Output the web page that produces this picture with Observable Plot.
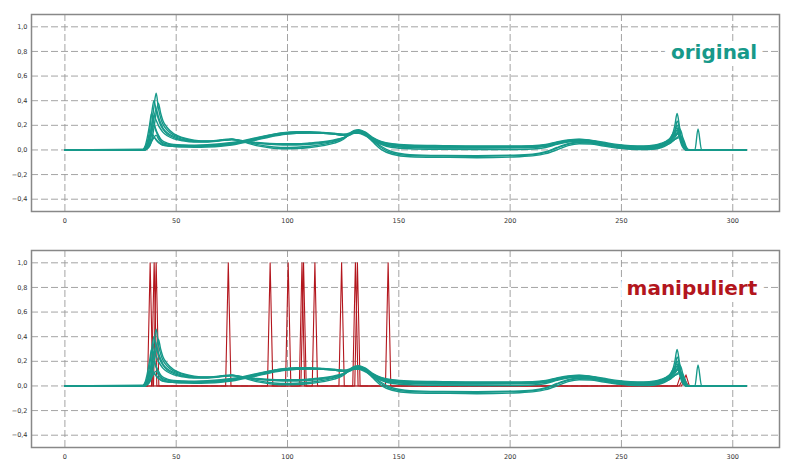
<!DOCTYPE html>
<html>
<head>
<meta charset="utf-8">
<script src="https://cdn.jsdelivr.net/npm/d3@7"></script>
<script src="https://cdn.jsdelivr.net/npm/@observablehq/plot@0.6"></script>
<style>
  html, body { margin: 0; padding: 0; background: #fff; }
  #chart svg { display: block; }
</style>
</head>
<body>
<div id="chart"></div>
<script>
// ---- data ----
const xGrid = [0, 35, 36, 37, 38, 39, 40, 41, 42, 43, 44, 46, 49, 53, 58, 64, 70, 75, 80, 86, 92, 98, 104, 110, 116, 121, 125, 128, 130, 132, 135, 138, 142, 147, 155, 170, 185, 200, 210, 216, 221, 226, 231, 236, 242, 248, 254, 260, 265, 268, 270, 272, 273, 274, 275, 276, 277, 278, 279, 280, 283, 284.4, 286, 306];

const seriesA = [0, 0, 0.01, 0.03, 0.08, 0.2, 0.35, 0.46, 0.34, 0.26, 0.21,
  0.16, 0.12, 0.095, 0.075, 0.07, 0.08, 0.088, 0.065, 0.035, 0.018,
  0.01, 0.012, 0.02, 0.035, 0.055, 0.085, 0.13, 0.15, 0.155, 0.13, 0.08,
  0.02, -0.025, -0.045, -0.05, -0.052, -0.048, -0.04, -0.02, 0.015, 0.045, 0.06, 0.055,
  0.04, 0.02, 0.01, 0.005, 0.012, 0.03, 0.05, 0.09, 0.13, 0.2,
  0.296, 0.2, 0.08, 0.02, 0, 0, 0, 0, 0, 0];
const seriesB = [0, 0, 0.02, 0.06, 0.15, 0.3, 0.4, 0.32, 0.25, 0.2, 0.17,
  0.13, 0.1, 0.08, 0.068, 0.068, 0.078, 0.085, 0.072, 0.055, 0.045,
  0.04, 0.04, 0.045, 0.055, 0.07, 0.095, 0.125, 0.145, 0.15, 0.13, 0.085,
  0.03, -0.015, -0.038, -0.045, -0.047, -0.043, -0.035, -0.015, 0.02, 0.05, 0.065, 0.06,
  0.045, 0.025, 0.015, 0.01, 0.018, 0.035, 0.055, 0.08, 0.1, 0.14,
  0.236, 0.18, 0.07, 0.02, 0, 0, 0, 0, 0, 0];
const seriesC = [0, 0, 0, 0.01, 0.03, 0.08, 0.18, 0.3, 0.38, 0.3, 0.24,
  0.18, 0.13, 0.1, 0.08, 0.072, 0.082, 0.09, 0.07, 0.045, 0.028,
  0.02, 0.022, 0.03, 0.045, 0.065, 0.095, 0.13, 0.148, 0.15, 0.12, 0.07,
  0.005, -0.035, -0.055, -0.06, -0.063, -0.058, -0.048, -0.03, 0.0, 0.035, 0.05, 0.048,
  0.032, 0.015, 0.006, 0.003, 0.008, 0.02, 0.035, 0.06, 0.08, 0.1,
  0.13, 0.17, 0.14, 0.06, 0.02, 0, 0, 0, 0, 0];
const seriesD = [0, 0, 0.005, 0.02, 0.05, 0.13, 0.26, 0.33, 0.27, 0.22, 0.18,
  0.14, 0.11, 0.085, 0.07, 0.068, 0.078, 0.086, 0.074, 0.058, 0.05,
  0.046, 0.046, 0.052, 0.062, 0.078, 0.098, 0.125, 0.14, 0.14, 0.12, 0.09,
  0.055, 0.035, 0.025, 0.02, 0.02, 0.022, 0.025, 0.035, 0.055, 0.07, 0.078, 0.07,
  0.05, 0.03, 0.02, 0.02, 0.03, 0.045, 0.06, 0.08, 0.1, 0.12,
  0.14, 0.12, 0.08, 0.03, 0.01, 0, 0, 0, 0, 0];
const seriesE = [0, 0, 0.01, 0.04, 0.1, 0.2, 0.28, 0.24, 0.2, 0.17, 0.145,
  0.115, 0.09, 0.075, 0.065, 0.064, 0.074, 0.082, 0.072, 0.06, 0.052,
  0.05, 0.05, 0.056, 0.066, 0.082, 0.1, 0.12, 0.135, 0.135, 0.115, 0.085,
  0.05, 0.03, 0.02, 0.015, 0.015, 0.017, 0.02, 0.03, 0.05, 0.068, 0.075, 0.068,
  0.05, 0.032, 0.022, 0.02, 0.028, 0.04, 0.05, 0.065, 0.075, 0.085,
  0.1, 0.115, 0.1, 0.05, 0.015, 0, 0, 0, 0, 0];
const seriesF = [0, 0, 0.01, 0.04, 0.09, 0.16, 0.2, 0.15, 0.11, 0.08, 0.06,
  0.048, 0.04, 0.036, 0.035, 0.038, 0.045, 0.055, 0.07, 0.095, 0.12,
  0.138, 0.145, 0.145, 0.14, 0.132, 0.125, 0.135, 0.155, 0.16, 0.14, 0.1,
  0.065, 0.045, 0.035, 0.03, 0.028, 0.028, 0.03, 0.04, 0.06, 0.078, 0.085, 0.078,
  0.058, 0.04, 0.03, 0.028, 0.035, 0.05, 0.07, 0.1, 0.13, 0.16,
  0.2, 0.15, 0.06, 0.02, 0, 0, 0, 0, 0, 0];
const seriesG = [0, 0, 0.02, 0.06, 0.11, 0.13, 0.11, 0.08, 0.06, 0.048, 0.04,
  0.035, 0.032, 0.03, 0.03, 0.033, 0.04, 0.05, 0.066, 0.09, 0.115,
  0.132, 0.14, 0.14, 0.136, 0.128, 0.12, 0.13, 0.15, 0.155, 0.135, 0.095,
  0.06, 0.04, 0.03, 0.025, 0.024, 0.025, 0.028, 0.038, 0.058, 0.075, 0.082, 0.075,
  0.055, 0.035, 0.025, 0.022, 0.03, 0.045, 0.062, 0.085, 0.11, 0.13,
  0.16, 0.13, 0.06, 0.02, 0, 0, 0, 0, 0, 0];
const seriesH = [0, 0, 0, 0.02, 0.05, 0.08, 0.1, 0.085, 0.065, 0.05, 0.04,
  0.032, 0.028, 0.026, 0.026, 0.03, 0.036, 0.046, 0.062, 0.085, 0.11,
  0.128, 0.136, 0.138, 0.135, 0.128, 0.118, 0.128, 0.148, 0.152, 0.132, 0.09,
  0.055, 0.035, 0.025, 0.02, 0.02, 0.02, 0.024, 0.033, 0.052, 0.07, 0.076, 0.07,
  0.05, 0.03, 0.02, 0.018, 0.024, 0.036, 0.05, 0.07, 0.09, 0.11,
  0.13, 0.12, 0.09, 0.05, 0.015, 0, 0, 0, 0, 0];
const seriesI = [0, 0, 0, 0.01, 0.03, 0.07, 0.1, 0.12, 0.09, 0.065, 0.05,
  0.038, 0.03, 0.025, 0.022, 0.024, 0.03, 0.04, 0.058, 0.08, 0.105,
  0.125, 0.135, 0.14, 0.138, 0.13, 0.122, 0.13, 0.15, 0.155, 0.13, 0.085,
  0.045, 0.02, 0.01, 0.005, 0.003, 0.004, 0.008, 0.02, 0.045, 0.065, 0.072, 0.066,
  0.045, 0.025, 0.012, 0.01, 0.016, 0.028, 0.04, 0.055, 0.07, 0.085,
  0.095, 0.1, 0.11, 0.08, 0.03, 0.005, 0, 0, 0, 0];
const seriesJ = [0, 0.005, 0.03, 0.1, 0.2, 0.3, 0.22, 0.16, 0.12, 0.09, 0.072,
  0.056, 0.045, 0.04, 0.038, 0.042, 0.05, 0.06, 0.075, 0.1, 0.122,
  0.14, 0.148, 0.148, 0.142, 0.135, 0.128, 0.138, 0.158, 0.165, 0.145, 0.105,
  0.07, 0.05, 0.04, 0.035, 0.032, 0.032, 0.035, 0.045, 0.065, 0.082, 0.088, 0.08,
  0.062, 0.045, 0.035, 0.032, 0.04, 0.055, 0.068, 0.09, 0.12, 0.145,
  0.18, 0.1, 0.04, 0.01, 0, 0, 0, 0.17, 0, 0];

// manipulated (red) series
const red1X = [36, 37.1, 38.3, 39.5, 72.2, 73.4, 74.6, 99.1, 100.3, 101.5, 111.1, 112.3, 113.5, 129.3, 130.5, 131.7, 275, 277, 279, 281];
const red1Y = [0, 0, 1, 0, 0, 1, 0, 0, 1, 0, 0, 1, 0, 0, 1, 0, 0, 0.11, 0, 0];
const red2X = [36, 38.9, 40.1, 41.3, 91, 92.2, 93.4, 105.3, 106.5, 107.7, 123.1, 124.3, 125.5, 144, 145.2, 146.4, 276, 278, 280, 281];
const red2Y = [0, 0, 1, 0, 0, 1, 0, 0, 1, 0, 0, 1, 0, 0, 1, 0, 0, 0.07, 0, 0];
const red3X = [36, 39.8, 41.0, 42.2, 106, 107.2, 108.4, 130.2, 131.4, 132.6, 277, 279, 280.5, 281];
const red3Y = [0, 0, 1, 0, 0, 1, 0, 0, 1, 0, 0, 0.09, 0, 0];

const xTicks = [0, 50, 100, 150, 200, 250, 300];
const yTicks = [-0.4, -0.2, 0, 0.2, 0.4, 0.6, 0.8, 1.0];
const labelTop = "original";
const labelBottom = "manipuliert";

// ---- build tables ----
const tealSeries = {A: seriesA, B: seriesB, C: seriesC, D: seriesD, E: seriesE, F: seriesF, G: seriesG, H: seriesH, I: seriesI, J: seriesJ};
const teal = Object.entries(tealSeries).flatMap(([k, ys]) => ys.map((y, i) => ({series: k, x: xGrid[i], y})));
const redSeries = {r1: [red1X, red1Y], r2: [red2X, red2Y], r3: [red3X, red3Y]};
const red = Object.entries(redSeries).flatMap(([k, [xs, ys]]) => xs.map((x, i) => ({series: k, x, y: ys[i]})));

const TEAL = "#17998a";
const RED = "#b3161d";
const fmt = d => d.toFixed(1).replace(".", ",").replace("-", "\u2212");

function panel({height, marginTop, marginBottom, label, labelColor, withRed}) {
  return Plot.plot({
    width: 800,
    height,
    marginTop,
    marginBottom,
    marginLeft: 31,
    marginRight: 21,
    x: {domain: [-15, 321]},
    y: {domain: [-0.5, 1.1]},
    style: {fontFamily: "DejaVu Sans, Verdana, sans-serif", fontSize: "6.5px", color: "#333", background: "#fff"},
    marks: [
      Plot.ruleX(xTicks, {stroke: "#9a9a9a", strokeDasharray: "7,3", strokeWidth: 0.9}),
      Plot.ruleY(yTicks, {stroke: "#9a9a9a", strokeDasharray: "7,3", strokeWidth: 0.9}),
      Plot.axisX({ticks: xTicks, tickSize: 0, tickPadding: 7, tickFormat: d => String(d), label: null}),
      Plot.axisY({ticks: yTicks, tickSize: 0, tickPadding: 4, tickFormat: fmt, label: null}),
      Plot.text([label], {x: 311, y: 0.74, text: d => d, textAnchor: "end", lineAnchor: "bottom",
        fill: labelColor, fontSize: 20, fontWeight: "bold", stroke: "white", strokeWidth: 14, paintOrder: "stroke"}),
      withRed ? Plot.line(red, {x: "x", y: "y", z: "series", stroke: RED, strokeWidth: 1.1}) : null,
      Plot.line(teal, {x: "x", y: "y", z: "series", stroke: TEAL, strokeWidth: 1.4, curve: "monotone-x"}),
      Plot.frame({stroke: "#888", strokeWidth: 1.5})
    ]
  });
}

const root = document.getElementById("chart");
root.append(panel({height: 234, marginTop: 14, marginBottom: 23, label: labelTop, labelColor: TEAL, withRed: false}));
root.append(panel({height: 235, marginTop: 16, marginBottom: 22, label: labelBottom, labelColor: RED, withRed: true}));
</script>
</body>
</html>
